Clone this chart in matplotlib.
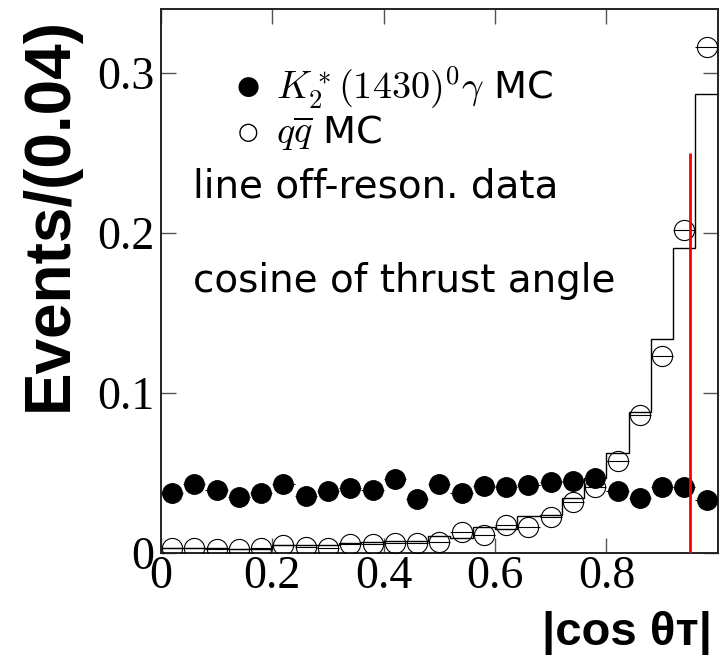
import numpy as np
import matplotlib
matplotlib.use("Agg")
import matplotlib.pyplot as plt

plt.rcParams['mathtext.fontset'] = 'cm'

# 25 bins of width 0.04 in |cos theta_T|
bin_edges = np.linspace(0.0, 1.0, 26)
bin_centers = 0.5 * (bin_edges[:-1] + bin_edges[1:])

# K2*(1430)0 gamma MC (filled circles)
signal_mc = [0.037, 0.0426, 0.039, 0.035, 0.037, 0.043, 0.0356, 0.0385, 0.0405,
             0.039, 0.0459, 0.0335, 0.0426, 0.037, 0.0418, 0.041, 0.0421, 0.0442,
             0.0448, 0.0469, 0.0386, 0.0338, 0.0407, 0.0407, 0.0328]

# q qbar MC (open circles)
qqbar_mc = [0.0027, 0.0027, 0.0023, 0.0023, 0.0027, 0.0048, 0.0037, 0.0027, 0.0054,
            0.0052, 0.0058, 0.0058, 0.0064, 0.0127, 0.011, 0.0173, 0.0162, 0.0225,
            0.0314, 0.041, 0.057, 0.0859, 0.123, 0.202, 0.316]

# off-resonance data (histogram line)
offres_data = [0.003, 0.003, 0.0028, 0.0025, 0.0025, 0.0045, 0.0045, 0.005, 0.006,
               0.0066, 0.007, 0.0072, 0.0106, 0.009, 0.0162, 0.015, 0.0227, 0.0232,
               0.0343, 0.0467, 0.0623, 0.0877, 0.1338, 0.1905, 0.2868]

# selection cut
cut_x = 0.95
cut_height = 0.25

xtick_vals = [0, 0.2, 0.4, 0.6, 0.8]
xtick_labels = ["0", "0.2", "0.4", "0.6", "0.8"]
ytick_vals = [0, 0.1, 0.2, 0.3]
ytick_labels = ["0", "0.1", "0.2", "0.3"]

fig = plt.figure(figsize=(7.25, 6.59), dpi=100)
ax = fig.add_axes([0.222, 0.1616, 0.768, 0.8247])

half_w = np.diff(bin_edges) / 2

# histogram of off-resonance data
ax.stairs(offres_data, bin_edges, color='black', linewidth=1.0, zorder=2)

ax.errorbar(bin_centers, qqbar_mc, xerr=half_w, fmt='o', ms=14.5,
            mfc='none', mec='black', mew=0.8, ecolor='black', elinewidth=0.8,
            capsize=0, zorder=3)
ax.errorbar(bin_centers, signal_mc, xerr=half_w, fmt='o', ms=14,
            mfc='black', mec='black', ecolor='black', elinewidth=0.8,
            capsize=0, zorder=4)

ax.vlines(cut_x, 0, cut_height, color='red', linewidth=2.0, zorder=5)

ax.set_xlim(0, 1.0)
ax.set_ylim(0, 0.34)
ax.set_xticks(xtick_vals)
ax.set_xticklabels(xtick_labels)
ax.set_yticks(ytick_vals)
ax.set_yticklabels(ytick_labels)
ax.tick_params(direction='in', length=11, width=1.0, color='#555555',
               top=True, right=True, labelsize=33)
ax.tick_params(axis='x', pad=2)
ax.tick_params(axis='y', pad=5)
for lab in ax.get_xticklabels() + ax.get_yticklabels():
    lab.set_family('Liberation Serif')
for sp in ax.spines.values():
    sp.set_linewidth(1.4)
    sp.set_color('#222222')

# legend-like annotations
ax.text(0.156, 0.291, "\u25cf", fontsize=19, ha='center', va='center')
ax.text(0.207, 0.291, r"$K_2^*(1430)^0\gamma$ MC", fontsize=27.5, va='center')
ax.text(0.156, 0.263, "\u25cb", fontsize=17, ha='center', va='center')
ax.text(0.207, 0.263, r"$q\overline{q}$ MC", fontsize=27.5, va='center')
ax.text(0.057, 0.229, "line off-reson. data", fontsize=28, va='center')
ax.text(0.057, 0.17, "cosine of thrust angle", fontsize=28, va='center')

fig.text(0.069, 0.974, "Events/(0.04)", rotation=90, ha='center', va='top',
         fontsize=46, fontweight='bold', family='Liberation Sans')
fig.text(0.982, 0.039, "|cos \u03b8\u1d1b|", ha='right', va='center',
         fontsize=34, fontweight='bold', family=['Liberation Sans', 'DejaVu Sans'])

fig.savefig("out.png", dpi=100)
